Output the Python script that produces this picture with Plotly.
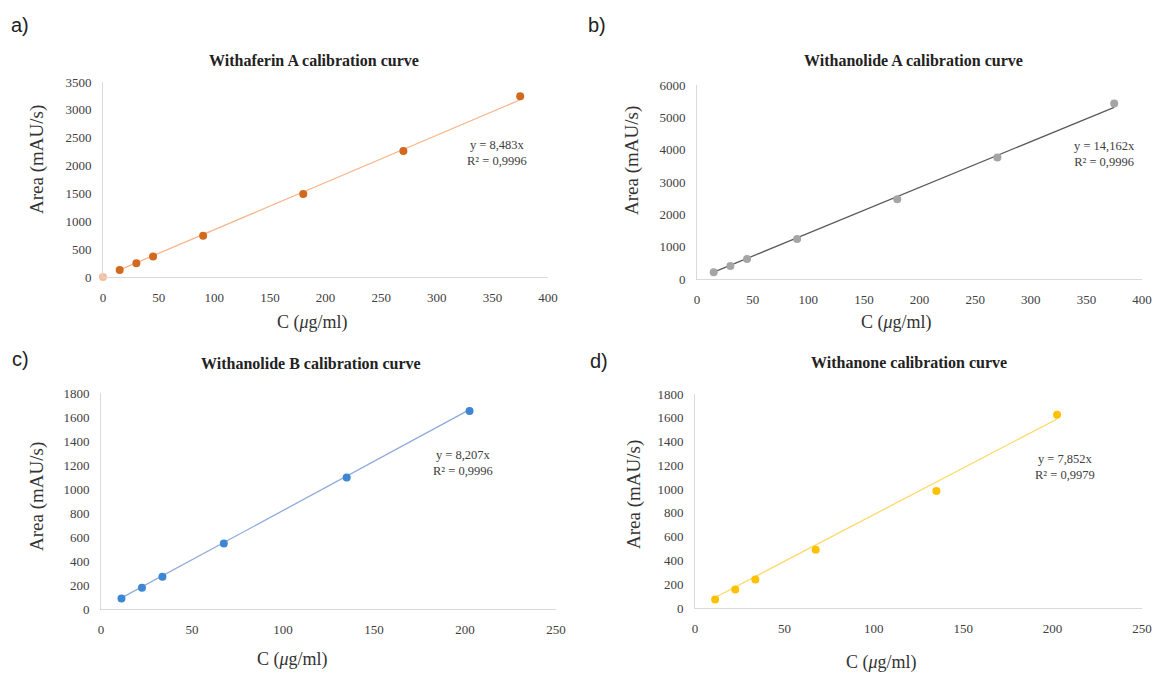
import plotly.graph_objects as go

# ---- data ----
conc_a = [15, 30, 45, 90, 180, 270, 375]
area_a = [125, 245, 370, 740, 1490, 2260, 3245]
origin_a = [0]
slope_a = 8.483
r2_a = "0,9996"

conc_b = [15, 30, 45, 90, 180, 270, 375]
area_b = [205, 400, 615, 1235, 2465, 3760, 5430]
slope_b = 14.162
r2_b = "0,9996"

conc_c = [11.25, 22.5, 33.75, 67.5, 135, 202.5]
area_c = [88, 178, 268, 545, 1095, 1650]
slope_c = 8.207
r2_c = "0,9996"

conc_d = [11.25, 22.5, 33.75, 67.5, 135, 202.5]
area_d = [72, 155, 240, 490, 985, 1625]
slope_d = 7.852
r2_d = "0,9979"

titles = ["Withaferin A calibration curve", "Withanolide A calibration curve",
          "Withanolide B calibration curve", "Withanone calibration curve"]
letters = ["a)", "b)", "c)", "d)"]

# page body has an 8px margin; positions below are window pixels
OFF = 8
W, H = 1152, 665
SERIF = "Liberation Serif, Times New Roman, serif"

def fx(px):
    return (px - OFF) / W

def fy(py):
    return 1 - (py - OFF) / H

# panel geometry in window pixels: x0, x1, y_bottom, y_top
panels = [
    dict(x0=103, x1=548, yb=277, yt=82, xr=[0, 400], yr=[0, 3500], dy=500, dx=50),
    dict(x0=697, x1=1142, yb=279, yt=85, xr=[0, 400], yr=[0, 6000], dy=1000, dx=50),
    dict(x0=101, x1=556, yb=609, yt=393, xr=[0, 250], yr=[0, 1800], dy=200, dx=50),
    dict(x0=695, x1=1142, yb=608, yt=394, xr=[0, 250], yr=[0, 1800], dy=200, dx=50),
]

series = [
    (conc_a, area_a, slope_a, r2_a, "#D2691E", "#F8B58A"),
    (conc_b, area_b, slope_b, r2_b, "#A5A5A5", "#5A5A5A"),
    (conc_c, area_c, slope_c, r2_c, "#3D86D3", "#8FAADC"),
    (conc_d, area_d, slope_d, r2_d, "#FFC000", "#FFD966"),
]

fig = go.Figure()
layout = dict(template="none", width=W, height=H, margin=dict(l=0, r=0, t=0, b=0, pad=0),
              autosize=False,
              paper_bgcolor="white", plot_bgcolor="white", showlegend=False,
              font=dict(family=SERIF, color="#404040"))
annotations = []

for i, (p, s) in enumerate(zip(panels, series)):
    k = "" if i == 0 else str(i + 1)
    xa, ya = "x" + k, "y" + k
    conc, area, slope, r2, mcol, lcol = s
    xs = [min(conc), max(conc)]
    fig.add_trace(go.Scatter(x=xs, y=[slope * v for v in xs], mode="lines",
                             line=dict(color=lcol, width=1.3), xaxis=xa, yaxis=ya,
                             hoverinfo="skip", cliponaxis=False))
    fig.add_trace(go.Scatter(x=conc, y=area, mode="markers", cliponaxis=False,
                             marker=dict(color=mcol, size=8, line=dict(width=0)),
                             xaxis=xa, yaxis=ya))
    if i == 0:
        fig.add_trace(go.Scatter(x=origin_a, y=[0], mode="markers", cliponaxis=False,
                                 marker=dict(color="#F9BC9E", size=8, line=dict(width=0)),
                                 xaxis=xa, yaxis=ya))
    for ax, dom, rng, dt, anc in (("xaxis", [fx(p["x0"]), fx(p["x1"])], p["xr"], p["dx"], ya),
                                  ("yaxis", [fy(p["yb"]), fy(p["yt"])], p["yr"], p["dy"], xa)):
        layout[ax + k] = dict(domain=dom, range=rng, dtick=dt, tick0=0, anchor=anc,
                              automargin=False, showgrid=False, zeroline=False,
                              showline=True, linecolor="#D9D9D9", linewidth=1,
                              ticks="", tickfont=dict(family=SERIF, size=13, color="#404040"),
                              ticklabelstandoff=8, fixedrange=True)

# text placements (window pixels)
title_pos = [(314, 61), (913, 61), (311, 363), (909, 362)]
letter_pos = [(20, 25), (597, 25), (20, 359), (599, 361)]
xtitle_pos = [(312, 322), (896, 323), (292, 659), (881, 662)]
ytitle_pos = [(37, 160), (632, 161), (37, 497), (634, 495)]
eq_pos = [(497, 153), (1104, 154), (463, 463), (1065, 467)]

for i in range(4):
    annotations.append(dict(text="<b>%s</b>" % titles[i], x=fx(title_pos[i][0]), y=fy(title_pos[i][1]),
                            xref="paper", yref="paper", showarrow=False,
                            font=dict(family=SERIF, size=16, color="#222222"),
                            xanchor="center", yanchor="middle"))
    annotations.append(dict(text=letters[i], x=fx(letter_pos[i][0]), y=fy(letter_pos[i][1]),
                            xref="paper", yref="paper", showarrow=False,
                            font=dict(family="Liberation Sans", size=20, color="#222222"),
                            xanchor="center", yanchor="middle"))
    annotations.append(dict(text="C (<i>\u03bc</i>g/ml)", x=fx(xtitle_pos[i][0]), y=fy(xtitle_pos[i][1]),
                            xref="paper", yref="paper", showarrow=False,
                            font=dict(family=SERIF, size=18, color="#333333"),
                            xanchor="center", yanchor="middle"))
    annotations.append(dict(text="Area (mAU/s)", x=fx(ytitle_pos[i][0]), y=fy(ytitle_pos[i][1]),
                            xref="paper", yref="paper", showarrow=False, textangle=-90,
                            font=dict(family=SERIF, size=19, color="#333333"),
                            xanchor="center", yanchor="middle"))
    slope = series[i][2]
    r2 = series[i][3]
    eq = "y = %sx<br>R\u00b2 = %s" % (("%.3f" % slope).replace(".", ","), r2)
    annotations.append(dict(text=eq, x=fx(eq_pos[i][0]), y=fy(eq_pos[i][1]),
                            xref="paper", yref="paper", showarrow=False, align="center",
                            font=dict(family=SERIF, size=12.5, color="#404040"),
                            xanchor="center", yanchor="middle"))

layout["annotations"] = annotations
fig.update_layout(**layout)
fig.write_html("out.html")
